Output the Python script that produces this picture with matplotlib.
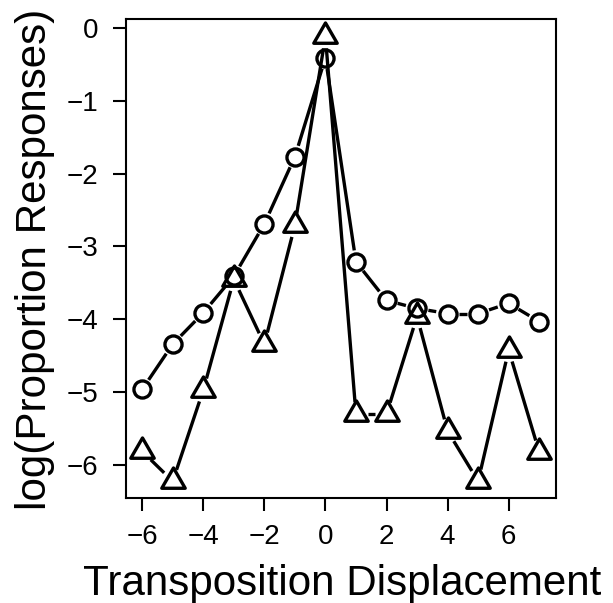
import numpy as np
import matplotlib
matplotlib.use('Agg')
import matplotlib.pyplot as plt
from matplotlib.path import Path

plt.rcParams['font.family'] = ['Liberation Sans', 'DejaVu Sans']

displacement = [-6, -5, -4, -3, -2, -1, 0, 1, 2, 3, 4, 5, 6, 7]
circles = [-4.96, -4.34, -3.91, -3.41, -2.69, -1.77, -0.41,
           -3.21, -3.74, -3.85, -3.92, -3.92, -3.78, -4.03]
triangles = [-5.81, -6.22, -4.97, -3.45, -4.34, -2.71, -0.12,
             -5.30, -5.30, -3.96, -5.53, -6.22, -4.42, -5.82]
xticks = [-6, -4, -2, 0, 2, 4, 6]
yticks = [0, -1, -2, -3, -4, -5, -6]

W, H = 613, 603
fig = plt.figure(figsize=(W / 100, H / 100), dpi=100)
ax = fig.add_axes([126 / W, 1 - 498 / H, (556 - 126) / W, (498 - 19) / H])
XL, YL = (-6.53, 7.55), (-6.45, 0.12)
ax.set_xlim(*XL)
ax.set_ylim(*YL)

tri = Path([(0, 1), (-0.866, -0.5), (0.866, -0.5), (0, 1)], closed=True)

def gapped(x, y, gap_px, **kw):
    pts = ax.transData.transform(np.column_stack([x, y]))
    inv = ax.transData.inverted()
    for p0, p1 in zip(pts[:-1], pts[1:]):
        d = p1 - p0
        L = np.hypot(*d)
        if L <= 2 * gap_px:
            continue
        u = d / L
        a = inv.transform(p0 + u * gap_px)
        b = inv.transform(p1 - u * gap_px)
        ax.plot([a[0], b[0]], [a[1], b[1]], **kw)

lw = 2.4
gapped(displacement, circles, 11.5, color='black', lw=lw, solid_capstyle='butt')
gapped(displacement, triangles, 12, color='black', lw=lw, solid_capstyle='butt')
ax.plot(displacement, circles, linestyle='none', marker='o', ms=12.3,
        mfc='none', mec='black', mew=lw)
ax.plot(displacement, triangles, linestyle='none', marker=tri, ms=19.5,
        mfc='none', mec='black', mew=lw)
ax.set_xlim(*XL)
ax.set_ylim(*YL)

for s in ax.spines.values():
    s.set_linewidth(1.5)
ax.set_xticks(xticks)
ax.set_yticks(yticks)
ax.set_xticklabels([str(v).replace('-', '\u2212') for v in xticks])
ax.set_yticklabels([str(v).replace('-', '\u2212') for v in yticks])
ax.tick_params(axis='both', direction='out', length=9.5, width=1.5, labelsize=20)
ax.tick_params(axis='x', pad=9)
ax.tick_params(axis='y', pad=10.5)

fig.text(342 / W, 1 - 595 / H, 'Transposition Displacement', ha='center',
         va='baseline', fontsize=30.3)
fig.text(35 / W, 1 - 259 / H, 'log(Proportion Responses)', ha='center',
         va='center', rotation=90, fontsize=30.3)

fig.savefig('out.png', dpi=100)
